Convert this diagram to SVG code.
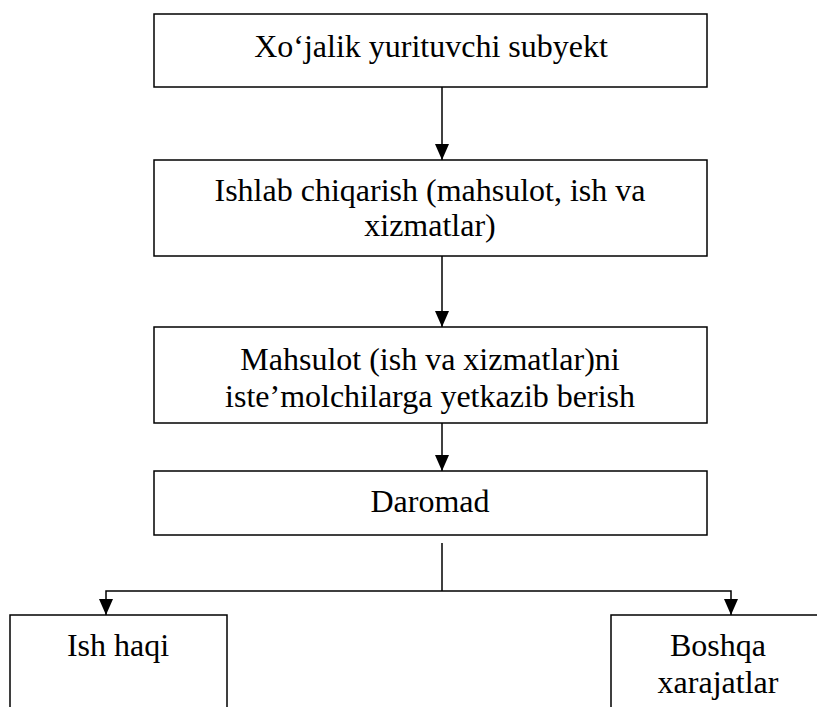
<svg xmlns="http://www.w3.org/2000/svg" width="817" height="707" viewBox="0 0 817 707">
<style>
.box{fill:#fff;stroke:#000;stroke-width:1.5}
.t{font-family:'Liberation Serif','Times New Roman',serif;font-size:32px;fill:#000;text-anchor:middle}
.c{fill:none;stroke:#000;stroke-width:1.5}
</style>
<defs>
<marker id="ah" markerWidth="16" markerHeight="14" refX="16" refY="7" orient="auto" markerUnits="userSpaceOnUse" viewBox="0 0 16 14">
<path d="M0,0 L16,7 L0,14 Z" fill="#000"/>
</marker>
</defs>
<rect width="817" height="707" fill="#fff"/>
<g id="connectors">
<line class="c" x1="442" y1="87" x2="442" y2="160" marker-end="url(#ah)"/>
<line class="c" x1="442" y1="256" x2="442" y2="327" marker-end="url(#ah)"/>
<line class="c" x1="442" y1="423" x2="442" y2="471" marker-end="url(#ah)"/>
<line class="c" x1="442" y1="543" x2="442" y2="591"/>
<polyline class="c" points="442,591 106,591 106,615" marker-end="url(#ah)"/>
<polyline class="c" points="442,591 731,591 731,615" marker-end="url(#ah)"/>
</g>
<g font-family="'Liberation Serif','Times New Roman',serif">
<g id="n1">
<rect class="box" x="154" y="14" width="553" height="73"/>
<text class="t" x="431" y="57">Xo‘jalik yurituvchi subyekt</text>
</g>
<g id="n2">
<rect class="box" x="154" y="160" width="553" height="96"/>
<text class="t" x="430" y="201">Ishlab chiqarish (mahsulot, ish va</text>
<text class="t" x="430" y="236">xizmatlar)</text>
</g>
<g id="n3">
<rect class="box" x="154" y="327" width="553" height="96"/>
<text class="t" x="430" y="370">Mahsulot (ish va xizmatlar)ni</text>
<text class="t" x="430" y="407">iste’molchilarga yetkazib berish</text>
</g>
<g id="n4">
<rect class="box" x="154" y="471" width="553" height="64"/>
<text class="t" x="430" y="512">Daromad</text>
</g>
<g id="n5">
<rect class="box" x="10" y="615" width="217" height="120"/>
<text class="t" x="118" y="656">Ish haqi</text>
</g>
<g id="n6">
<rect class="box" x="611" y="615" width="214" height="120"/>
<text class="t" x="718" y="656">Boshqa</text>
<text class="t" x="718" y="693">xarajatlar</text>
</g>
</g>
</svg>
